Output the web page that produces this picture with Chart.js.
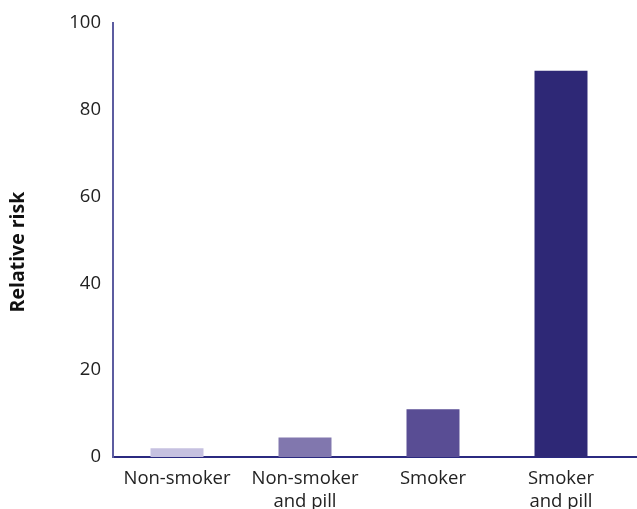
<!DOCTYPE html>
<html>
<head>
<meta charset="utf-8">
<script src="https://cdn.jsdelivr.net/npm/chart.js@4"></script>
<style>
  html, body { margin: 0; padding: 0; background: #fff; }
  #chart { display: block; }
</style>
</head>
<body>
<canvas id="chart" width="637" height="509"></canvas>
<script>
// Data
const categories = [['Non-smoker'], ['Non-smoker', 'and pill'], ['Smoker'], ['Smoker', 'and pill']];
const riskValues = [2, 4.5, 11, 89];
const barColors = ['#c6c1e0', '#8177ae', '#594d94', '#2e2876'];
const yTicks = [0, 20, 40, 60, 80, 100];
const yTitle = 'Relative risk';

const fontFamily = "'Open Sans', 'Noto Sans', sans-serif";

// stretch x-axis line to the right edge and place the y title a bit lower than centre
const extras = {
  id: 'extras',
  afterDraw(chart) {
    const { ctx, chartArea } = chart;
    const y = Math.round(chart.scales.x.top);
    ctx.save();
    ctx.strokeStyle = '#2b2a80';
    ctx.lineWidth = 2;
    ctx.beginPath();
    ctx.moveTo(chartArea.right - 1, y);
    ctx.lineTo(chart.width, y);
    ctx.stroke();

    ctx.translate(18, chartArea.top + (chartArea.bottom - chartArea.top) / 2 + 12);
    ctx.rotate(-Math.PI / 2);
    ctx.fillStyle = '#111';
    ctx.font = 'bold 19.5px ' + fontFamily;
    ctx.textAlign = 'center';
    ctx.textBaseline = 'middle';
    ctx.fillText(yTitle, 0, 0);
    ctx.restore();
  }
};

new Chart(document.getElementById('chart'), {
  type: 'bar',
  data: {
    labels: categories,
    datasets: [{
      label: yTitle,
      data: riskValues,
      backgroundColor: barColors,
      borderWidth: 0,
      barPercentage: 0.414,
      categoryPercentage: 1
    }]
  },
  options: {
    responsive: false,
    animation: false,
    layout: { padding: { top: 23, right: 12, left: 0, bottom: 0 } },
    plugins: {
      legend: { display: false },
      tooltip: { enabled: false }
    },
    scales: {
      x: {
        grid: { display: false, drawTicks: false },
        border: { display: true, color: '#2b2a80', width: 2 },
        ticks: {
          color: '#222',
          font: { family: fontFamily, size: 18.5, lineHeight: 1.2 },
          padding: 11,
          maxRotation: 0,
          autoSkip: false
        },
        afterFit(scale) { scale.height = 52; }
      },
      y: {
        min: 0,
        max: 100,
        afterBuildTicks(scale) { scale.ticks = yTicks.map(v => ({ value: v })); },
        grid: { display: false, drawTicks: false },
        border: { display: true, color: '#5c5ca0', width: 2 },
        ticks: {
          color: '#222',
          font: { family: fontFamily, size: 18.5 },
          padding: 12
        },
        afterFit(scale) { scale.width = 113; }
      }
    }
  },
  plugins: [extras]
});
</script>
</body>
</html>
